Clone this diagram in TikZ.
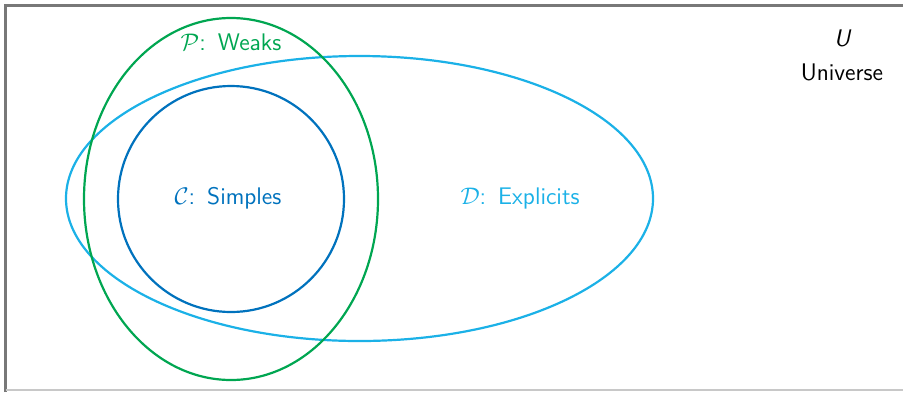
\documentclass[tikz,border=0pt]{standalone}
\renewcommand{\familydefault}{\sfdefault}
\definecolor{pgreen}{RGB}{0,166,81}
\definecolor{cblue}{RGB}{0,114,189}
\definecolor{dblue}{RGB}{27,177,231}
\definecolor{frameA}{RGB}{120,120,120}
\definecolor{frameB}{RGB}{200,200,200}
\begin{document}
\begin{tikzpicture}[x=0.5pt,y=-0.5pt,
  setline/.style={line width=1.1pt},
  lbl/.style={font=\fontsize{12}{14}\selectfont\sffamily, inner sep=0pt}]
\useasboundingbox (0,0) rectangle (903,392);
\draw[frameA, line width=1.1pt] (5.5,392) -- (5.5,5.5) -- (903,5.5);
\draw[frameB, line width=1.1pt] (5.5,390) -- (903,390);
% sets
\draw[setline, dblue] (359.5,198.5) ellipse [x radius=293.5, y radius=142.5];
\draw[setline, pgreen] (231,199) ellipse [x radius=147, y radius=181];
\draw[setline, cblue] (231,199) circle [radius=113];
% labels
\node[lbl, text=pgreen] (P) at (231,42) {$\mathcal{P}$:\enspace Weaks};
\node[lbl, text=cblue] (C) at (228,198) {$\mathcal{C}$:\enspace Simples};
\node[lbl, text=dblue] (D) at (520,198) {$\mathcal{D}$:\enspace Explicits};
\node[lbl] (U) at (842,38) {\itshape U};
\node[lbl] (Univ) at (842,72) {Universe};
\end{tikzpicture}
\end{document}
